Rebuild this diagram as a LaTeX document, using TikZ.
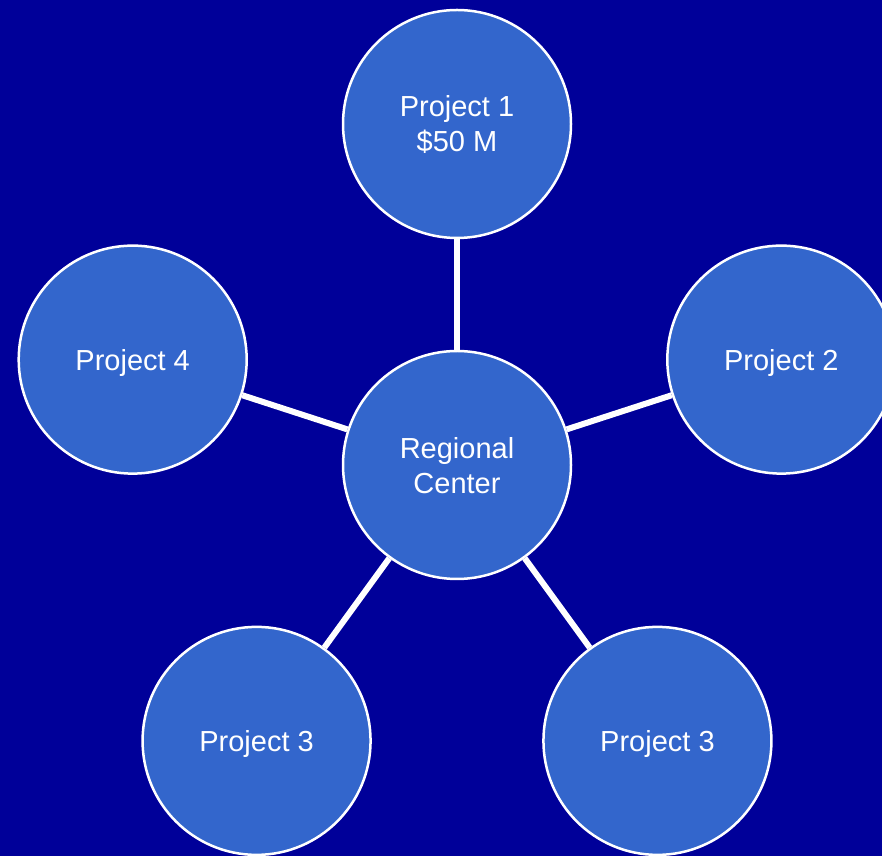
\documentclass[tikz,border=0pt]{standalone}
\usepackage{fontspec}
\setmainfont{Liberation Sans}
\usetikzlibrary{positioning, calc}
\definecolor{slidebg}{HTML}{000099}
\definecolor{bubble}{HTML}{3366CC}

\begin{document}
\begin{tikzpicture}[x=1pt, y=1pt,
    proj/.style={circle, draw=white, line width=2.5pt, fill=bubble, text=white,
      minimum size=228pt, inner sep=0pt, align=center, text depth=0pt,
      font=\fontsize{29}{35}\selectfont},
    link/.style={white, line width=6pt}]
    \fill[slidebg] (0,0) rectangle (882,856);
    \clip (0,0) rectangle (882,856);

    \node[proj] (rc) at (457,391) {Regional\\Center};
    \node[proj] (p1) at ($(rc)+(90:341)$) {Project 1\\\$50 M};
    \node[proj] (p2) at ($(rc)+(18:341)$) {Project 2};
    \node[proj] (p3r) at ($(rc)+(-54:341)$) {Project 3};
    \node[proj] (p3l) at ($(rc)+(-126:341)$) {Project 3};
    \node[proj] (p4) at ($(rc)+(162:341)$) {Project 4};

    \draw[link] (rc) -- (p1);
    \draw[link] (rc) -- (p2);
    \draw[link] (rc) -- (p3r);
    \draw[link] (rc) -- (p3l);
    \draw[link] (rc) -- (p4);
  \end{tikzpicture}
\end{document}
